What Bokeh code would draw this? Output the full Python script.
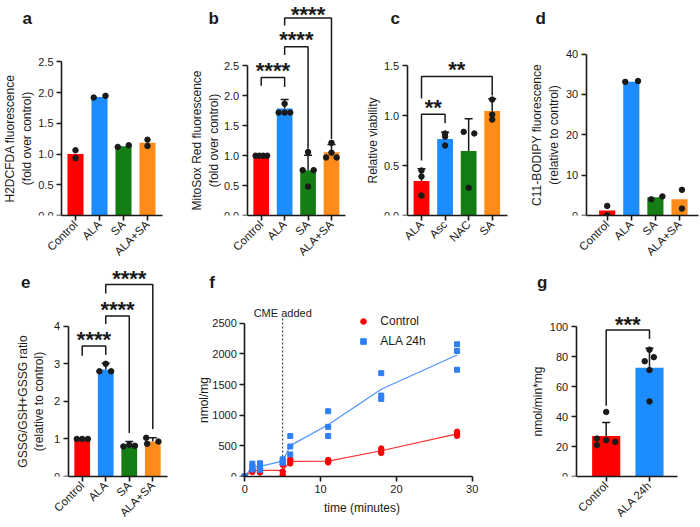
import math
from bokeh.plotting import figure
from bokeh.models import (Range1d, Label, FixedTicker, Whisker, TeeHead, ColumnDataSource,
                          Legend, LegendItem, NumeralTickFormatter)
from bokeh.layouts import column, row
from bokeh.embed import file_html
from bokeh.resources import INLINE
from bokeh.core.properties import value

# ---------------- data ----------------
RED, BLUE, GREEN, ORANGE = "#FF0000", "#1C8CFF", "#147D14", "#FF8C1A"
cats4 = ["Control", "ALA", "SA", "ALA+SA"]
colors4 = [RED, BLUE, GREEN, ORANGE]

# a  H2DCFDA
a_mean = [1.00, 1.93, 1.127, 1.186]
a_pts = [[1.062, 0.934], [1.92, 1.948], [1.116, 1.143], [1.234, 1.132]]
a_dx = [[0, 0], [-0.24, 0.25], [-0.24, 0.22], [0, 0]]

# b  MitoSox
b_mean = [1.0, 1.79, 0.758, 1.055]
b_sd = [0.0, 0.15, 0.25, 0.13]
b_pts = [[1.0, 1.0, 1.0, 1.0], [1.868, 1.72, 1.72, 1.72],
         [1.06, 0.758, 0.758, 0.484], [1.214, 0.97, 1.05, 0.97]]
b_dx = [[-0.24, -0.085, 0.085, 0.256], [0, -0.256, 0, 0.24],
        [0, -0.23, 0.24, 0], [0, -0.23, 0, 0.22]]
b_sig = [(0, 1, 2.307, 2.17, 2.149, 2.489, "****"),
         (1, 2, 2.818, 2.681, 1.115, 3.011, "****"),
         (1, 3, 3.30, 3.176, 1.28, 3.42, "****")]

# c  viability
cats_c = ["ALA", "Asc", "NAC", "SA"]
c_mean = [0.346, 0.765, 0.646, 1.045]
c_sd = [0.122, 0.069, 0.323, 0.122]
c_pts = [[0.45, 0.39, 0.20], [0.82, 0.79, 0.70], [0.837, 0.821, 0.277], [1.16, 1.01, 0.96]]
c_dx = [[0, 0, 0], [0, 0, 0], [-0.21, 0.24, 0], [0, 0, 0]]
c_sig = [(0, 1, 1.012, 0.55, 0.923, 1.118, "**"),
         (0, 3, 1.391, 1.17, 1.20, 1.50, "**")]

# d  C11-BODIPY
d_mean = [1.22, 33.1, 4.49, 4.0]
d_pts = [[2.37, 0.05], [33.1, 33.3], [4.0, 4.73], [6.37, 1.71]]
d_dx = [[0, 0], [-0.25, 0.28], [-0.17, 0.29], [0.1, 0.1]]

# e  GSSG ratio
e_mean = [1.0, 2.85, 0.835, 0.93]
e_sd = [0.0, 0.165, 0.095, 0.10]
e_pts = [[1.0, 1.0, 1.0], [3.0, 2.80, 2.80], [0.80, 0.844, 0.818], [1.03, 0.93, 0.87]]
e_dx = [[-0.23, 0, 0.24], [0, -0.27, 0.23], [-0.25, 0, 0.24], [-0.28, 0.24, -0.24]]
e_sig = [(0, 1, 3.473, 3.217, 3.235, 3.745, "****"),
         (1, 2, 4.272, 4.061, 1.16, 4.562, "****"),
         (1, 3, 5.108, 4.87, 1.266, 5.372, "****")]

# f  time course
f_time = [0, 1, 2, 5, 6, 11, 18, 28]
f_ctrl = [[0, 0, 0], [115, 95, 75], [131, 98, 66], [190, 80, 25], [279, 251, 213],
          [270, 250, 230], [456, 418, 385], [730, 692, 664]]
f_ala = [[0, 0, 0], [210, 160, 115], [215, 170, 110], [280, 250, 225], [660, 490, 360],
         [1065, 810, 660], [1686, 1320, 1266], [2157, 2047, 1742]]
cme_time = 5

# g  rate
cats_g = ["Control", "ALA 24h"]
g_mean = [27.0, 72.5]
g_sd = [9.0, 13.0]
g_pts = [[43.1, 25.3, 24.2, 23.1, 20.9], [84.6, 76.9, 79.6, 71.0, 50.1]]
g_dx = [[0, -0.215, 0, 0.21, -0.215], [0, -0.11, 0.1, 0, 0]]
g_sig = [(0, 1, 97.8, 47.2, 91.7, 104.4, "***")]

# ---------------- styling / layout ----------------
FONT = "Liberation Sans"
INK = "#1a1a1a"


def make_fig(box, frame, vmax, xr, yticks, ylabel, yfmt="0.0", als=3):
    """box: figure (x0, y0, w, h) in page px; frame: (L, R, B, P) page px of
    y-axis, x-axis end, baseline and top tick."""
    fx0, fy0, fw, fh = box
    L, R, B, P = frame
    mb = int(round(fy0 + fh - B))
    bottom = fy0 + fh - mb
    top = fy0
    yend = vmax * (bottom - top) / (bottom - P)
    dpp = (xr[1] - xr[0]) / (R - L)
    xs = xr[0] - (L - fx0) * dpp
    xe = xr[1] + (fx0 + fw - R) * dpp
    p = figure(width=fw, height=fh, x_range=Range1d(xs, xe), y_range=Range1d(0, yend),
               output_backend="svg", toolbar_location=None, title=None,
               min_border_left=0, min_border_right=0, min_border_top=0,
               min_border_bottom=mb)
    p.outline_line_color = None
    p.grid.visible = False
    p.background_fill_color = "white"
    p.border_fill_color = "white"
    for ax in p.axis:
        ax.axis_line_width = 1.6
        ax.axis_line_color = INK
        ax.major_tick_line_width = 1.6
        ax.major_tick_line_color = INK
        ax.major_tick_out = 5
        ax.major_tick_in = 0
        ax.minor_tick_line_color = None
        ax.major_label_text_font = FONT
        ax.major_label_text_font_size = "11px"
        ax.major_label_text_color = INK
        ax.major_label_standoff = 3
        ax.axis_label_text_font = FONT
        ax.axis_label_text_font_size = "12px"
        ax.axis_label_text_font_style = "normal"
        ax.axis_label_text_color = INK
    p.yaxis.fixed_location = xr[0]
    p.yaxis.axis_label_standoff = als
    p.yaxis.bounds = (0, vmax)
    p.yaxis.ticker = FixedTicker(ticks=yticks)
    p.yaxis.formatter = NumeralTickFormatter(format=yfmt)
    p.yaxis.axis_label = ylabel
    p.xaxis.bounds = xr

    def ydat(py):
        return vmax * (bottom - py) / (bottom - P)

    def xdat(px):
        return xs + (px - fx0) * dpp

    return p, xdat, ydat


def letter(p, xdat, ydat, ch, xc, ybase):
    p.add_layout(Label(x=xdat(xc), y=ydat(ybase), text=ch, text_font=FONT,
                       text_font_size="17px", text_font_style="bold", text_align="center",
                       text_baseline="alphabetic", text_color=INK))


def cat_axis(p, cats):
    p.xaxis.ticker = FixedTicker(ticks=list(range(len(cats))))
    p.xaxis.major_label_overrides = {i: c for i, c in enumerate(cats)}
    p.xaxis.major_label_orientation = math.pi / 4
    p.xaxis.major_label_text_font_size = "11.5px"
    p.xaxis.major_label_standoff = 2


def bars(p, means, colors, width=0.67):
    p.vbar(x=list(range(len(means))), top=means, bottom=0, width=width,
           fill_color=colors, line_color=None)


def errs(p, means, sds):
    idx = [i for i, s in enumerate(sds) if s > 0]
    src = ColumnDataSource(dict(x=idx, lo=[means[i] for i in idx],
                                hi=[means[i] + sds[i] for i in idx]))
    p.add_layout(Whisker(source=src, base="x", lower="lo", upper="hi",
                         line_width=1.5, line_color=INK,
                         upper_head=TeeHead(size=8, line_width=1.5, line_color=INK),
                         lower_head=None))


def dots(p, pts, dx, size=5.5):
    xs, ys = [], []
    for i, (vals, offs) in enumerate(zip(pts, dx)):
        for v, o in zip(vals, offs):
            xs.append(i + o)
            ys.append(v)
    p.scatter(xs, ys, size=size, color=INK, marker="circle")


def brackets(p, sigs, fs=22):
    for (i, j, yh, yl1, yl2, ys, s) in sigs:
        p.line([i, i, j, j], [yl1, yh, yh, yl2], line_width=1.5, color=INK)
        p.text(x=[(i + j) / 2], y=[ys], text=[s], text_align="center",
               text_baseline="alphabetic", y_offset=4,
               text_font=value(FONT), text_font_size=f"{fs}px",
               text_font_style="bold", text_color=INK)


TOP_H = 264
BOT_Y = TOP_H
BOT_H = 526 - BOT_Y
BT = 217.3   # top-row baseline
BB = 477.5   # bottom-row baseline

# ---- a ----
pa, xa, ya = make_fig((0, 0, 178, TOP_H), (61, 162, BT, 62), 2.5, (-0.583, 3.625),
                      [0, 0.5, 1.0, 1.5, 2.0, 2.5],
                      "H2DCFDA fluorescence\n(fold over control)", als=1)
cat_axis(pa, cats4)
bars(pa, a_mean, colors4)
dots(pa, a_pts, a_dx)
letter(pa, xa, ya, "a", 26.7, 18.3)

# ---- b ----
pb, xb, yb = make_fig((178, 0, 172, TOP_H), (246.7, 345, BT, 66), 2.5, (-0.598, 3.598),
                      [0, 0.5, 1.0, 1.5, 2.0, 2.5],
                      "MitoSox Red fluorescence\n(fold over control)", als=0)
cat_axis(pb, cats4)
bars(pb, b_mean, colors4)
errs(pb, b_mean, b_sd)
dots(pb, b_pts, b_dx)
brackets(pb, b_sig)
letter(pb, xb, yb, "b", 213.3, 18.3)

# ---- c ----
pc, xc_, yc = make_fig((350, 0, 168, TOP_H), (406.7, 506.7, BT, 65.7), 1.5, (-0.607, 3.636),
                       [0, 0.5, 1.0, 1.5], "Relative viability", als=1)
cat_axis(pc, cats_c)
bars(pc, c_mean, colors4)
errs(pc, c_mean, c_sd)
dots(pc, c_pts, c_dx)
brackets(pc, c_sig)
letter(pc, xc_, yc, "c", 394.7, 18.3)

# ---- d ----
pd_, xd, yd = make_fig((518, 0, 181, TOP_H), (585.7, 698, BT, 54), 40, (-0.871, 3.788),
                       [0, 10, 20, 30, 40],
                       "C11-BODIPY fluorescence\n(relative to control)", yfmt="0", als=2)
cat_axis(pd_, cats4)
bars(pd_, d_mean, colors4)
dots(pd_, d_pts, d_dx)
letter(pd_, xd, yd, "d", 540.3, 18.3)

# ---- e ----
pe, xe, ye = make_fig((0, BOT_Y, 195, BOT_H), (67.7, 166.7, BB, 326.3), 4, (-0.595, 3.612),
                      [0, 1, 2, 3, 4],
                      "GSSG/GSH+GSSG ratio\n(relative to control)", yfmt="0", als=5)
cat_axis(pe, cats4)
bars(pe, e_mean, colors4)
errs(pe, e_mean, e_sd)
dots(pe, e_pts, e_dx)
brackets(pe, e_sig)
letter(pe, xe, ye, "e", 25.3, 281.7)

# ---- f ----
pf, xf, yf = make_fig((195, BOT_Y, 333, BOT_H), (244.3, 471.7, BB, 323.3), 2500, (0, 30),
                      [0, 500, 1000, 1500, 2000, 2500], "nmol/mg", yfmt="0", als=-2)
pf.xaxis.ticker = FixedTicker(ticks=[0, 10, 20, 30])
pf.xaxis.axis_label = "time (minutes)"
pf.xaxis.axis_label_standoff = 5
pf.segment(x0=[cme_time], y0=[0], x1=[cme_time], y1=[yf(318.3)], line_dash="2 2",
           line_width=1, color=INK)
pf.text(x=[cme_time], y=[yf(313.3)], text=["CME added"], text_align="center",
        text_baseline="middle", text_font=value(FONT), text_font_size="11px",
        text_color=INK)
ctrl_mean = [sum(v) / len(v) for v in f_ctrl]
ala_mean = [sum(v) / len(v) for v in f_ala]
pf.line(f_time, ctrl_mean, color="#FF3030", line_width=1.2)
pf.line(f_time, ala_mean, color="#4D94FF", line_width=1.2)
rc = pf.scatter([t for t, vals in zip(f_time, f_ctrl) for _ in vals],
                [v for vals in f_ctrl for v in vals], marker="circle", size=5.5,
                color="#FF0000")
ra = pf.scatter([t for t, vals in zip(f_time, f_ala) for _ in vals],
                [v for vals in f_ala for v in vals], marker="square", size=5,
                color="#2F7FF5")
f_bottom = BOT_Y + BOT_H - int(round(BOT_Y + BOT_H - BB))
leg_top = 323.3 - 7
leg = Legend(items=[LegendItem(label="Control", renderers=[rc]),
                    LegendItem(label="ALA 24h", renderers=[ra])],
             location=(363.3 - 7 - 195, f_bottom - (leg_top + 34)),
             background_fill_alpha=0, border_line_color=None, padding=0, margin=0,
             spacing=6, glyph_width=14, glyph_height=14, label_height=14,
             label_standoff=10, label_text_font=FONT, label_text_font_size="12px",
             label_text_color=INK)
pf.add_layout(leg)
letter(pf, xf, yf, "f", 211.7, 281.7)

# ---- g ----
pg, xg, yg = make_fig((528, BOT_Y, 171, BOT_H), (575.7, 677.3, BB, 326.7), 100, (-0.693, 1.654),
                      [0, 20, 40, 60, 80, 100], "nmol/min*mg", yfmt="0", als=2)
cat_axis(pg, cats_g)
bars(pg, g_mean, [RED, BLUE], width=0.65)
errs(pg, g_mean, g_sd)
dots(pg, g_pts, g_dx)
brackets(pg, g_sig)
letter(pg, xg, yg, "g", 541.7, 281.7)

layout = column(row(pa, pb, pc, pd_), row(pe, pf, pg))
open("out.html", "w").write(file_html(layout, INLINE))
